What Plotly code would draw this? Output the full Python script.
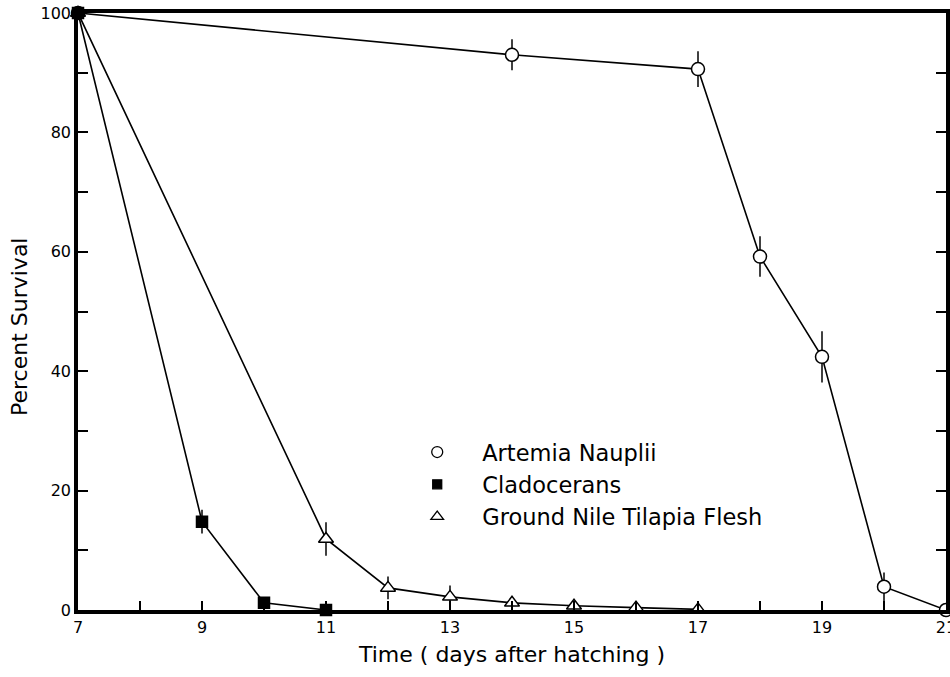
import plotly.graph_objects as go

# Data
artemia_x = [7, 14, 17, 18, 19, 20, 21]
artemia_y = [100, 93.0, 90.6, 59.2, 42.4, 3.9, 0]
artemia_err = [0, 2.6, 3.0, 3.4, 4.3, 2.4, 0]

clad_x = [7, 9, 10, 11]
clad_y = [100, 14.8, 1.2, 0]
clad_err = [0, 2.0, 0, 0]

tilapia_x = [7, 11, 12, 13, 14, 15, 16, 17]
tilapia_y = [100, 11.9, 3.7, 2.2, 1.2, 0.7, 0.4, 0.1]
tilapia_err = [0, 2.8, 1.9, 1.9, 1.0, 0.5, 0, 0]

x_ticks = [7, 9, 11, 13, 15, 17, 19, 21]
y_ticks = [0, 20, 40, 60, 80, 100]

FONT = "DejaVu Sans"
fig = go.Figure()

series = [
    (artemia_x, artemia_y, artemia_err, "circle", "white", 13, "Artemia Nauplii"),
    (clad_x, clad_y, clad_err, "square", "black", 11, "Cladocerans"),
    (tilapia_x, tilapia_y, tilapia_err, "triangle-up", "white", 13, "Ground Nile Tilapia Flesh"),
]

# data traces (cladocerans drawn last so its square sits on top at day 7)
for idx in [0, 2, 1]:
    x, y, err, symbol, fill, size, name = series[idx]
    fig.add_trace(go.Scatter(
        x=x, y=y, mode="lines+markers", showlegend=False,
        line=dict(color="black", width=1.6),
        marker=dict(symbol=symbol, size=size, color=fill,
                    line=dict(color="black", width=1.5)),
        error_y=dict(type="data", array=err, visible=True, color="black",
                     thickness=1.5, width=0),
        cliponaxis=False,
    ))

# legend-only entries (markers only, as in the original key)
for x, y, err, symbol, fill, size, name in series:
    fig.add_trace(go.Scatter(
        x=[None], y=[None], mode="markers", name=name,
        marker=dict(symbol=symbol, size=size - 2, color=fill,
                    line=dict(color="black", width=1.3)),
    ))

fig.update_layout(
    width=950, height=677,
    margin=dict(l=78, r=4, t=13, b=67),
    paper_bgcolor="white", plot_bgcolor="white",
    font=dict(family=FONT, color="black", size=15),
    showlegend=True,
    legend=dict(x=0.362, y=0.30, xanchor="left", yanchor="top",
                font=dict(size=22.5, family=FONT), bgcolor="rgba(0,0,0,0)",
                tracegroupgap=0, itemwidth=80),
    xaxis=dict(range=[7, 21], tickvals=x_ticks, ticktext=[str(v) for v in x_ticks],
               ticks="inside", ticklen=9, tickwidth=1.5, tickcolor="black",
               minor=dict(dtick=1, tick0=7, ticks="inside", ticklen=9, tickwidth=1.5, tickcolor="black"),
               showline=True, linewidth=3.5, linecolor="black", mirror=True,
               showgrid=False, zeroline=False, ticklabeloverflow="allow",
               automargin=False,
               title=dict(text="Time ( days after hatching )", font=dict(size=22), standoff=12),
               tickfont=dict(size=16)),
    yaxis=dict(range=[0, 100], tickvals=y_ticks,
               ticks="inside", ticklen=10, tickwidth=1.5, tickcolor="black",
               minor=dict(dtick=10, ticks="inside", ticklen=10, tickwidth=1.5, tickcolor="black"),
               showline=True, linewidth=3.5, linecolor="black", mirror="ticks",
               showgrid=False, zeroline=False, automargin=False,
               tickfont=dict(size=16)),
    annotations=[dict(text="Percent Survival", textangle=-90, xref="paper", yref="paper",
                      x=-0.068, y=0.474, xanchor="center", yanchor="middle",
                      showarrow=False, font=dict(size=22, family=FONT))],
)

fig.write_html("out.html")
